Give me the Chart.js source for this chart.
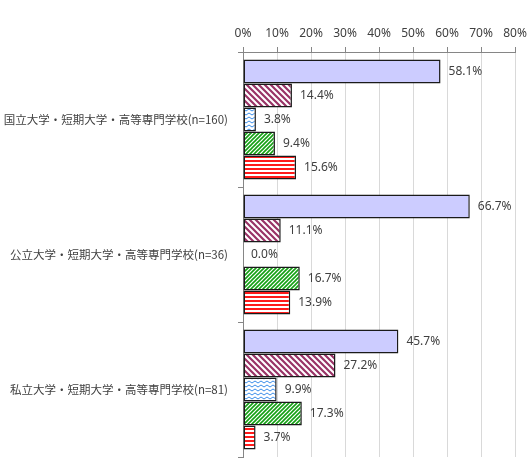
<!DOCTYPE html>
<html>
<head>
<meta charset="utf-8">
<script src="https://cdn.jsdelivr.net/npm/chart.js@4"></script>
<style>
  html, body { margin: 0; padding: 0; background: #fff; }
  #wrap { width: 531px; height: 472px; position: relative; }
</style>
</head>
<body>
<div id="wrap"><canvas id="chart" width="531" height="472"></canvas></div>
<script>
const categories = [
    '国立大学・短期大学・高等専門学校(n=160)',
    '公立大学・短期大学・高等専門学校(n=36)',
    '私立大学・短期大学・高等専門学校(n=81)'
];
const series1 = [58.1, 66.7, 45.7];
const series2 = [14.4, 11.1, 27.2];
const series3 = [3.8, 0.0, 9.9];
const series4 = [9.4, 16.7, 17.3];
const series5 = [15.6, 13.9, 3.7];
const xTicks = [0, 10, 20, 30, 40, 50, 60, 70, 80];

// Build fill patterns like the Excel hatching
function makePattern(w, h, draw) {
    const c = document.createElement('canvas');
    c.width = w; c.height = h;
    const g = c.getContext('2d');
    g.fillStyle = '#fff';
    g.fillRect(0, 0, w, h);
    draw(g);
    return document.getElementById('chart').getContext('2d').createPattern(c, 'repeat');
}

const maroonHatch = makePattern(6, 6, g => {
    g.strokeStyle = '#993366'; g.lineWidth = 2.2;
    g.beginPath();
    g.moveTo(-1, -1); g.lineTo(7, 7);
    g.moveTo(-1, 5); g.lineTo(1, 7);
    g.moveTo(5, -1); g.lineTo(7, 1);
    g.stroke();
});
const blueWave = makePattern(6, 4, g => {
    g.strokeStyle = '#3b8eea'; g.lineWidth = 1;
    g.beginPath();
    g.moveTo(0, 3); g.lineTo(3, 1); g.lineTo(6, 3);
    g.stroke();
});
const greenHatch = makePattern(4, 4, g => {
    g.strokeStyle = '#14a014'; g.lineWidth = 1.6;
    g.beginPath();
    g.moveTo(-1, 5); g.lineTo(5, -1);
    g.moveTo(-1, 1); g.lineTo(1, -1);
    g.moveTo(3, 5); g.lineTo(5, 3);
    g.stroke();
});
const redStripes = makePattern(4, 4, g => {
    g.fillStyle = '#ff1a1a';
    g.fillRect(0, 0, 4, 2);
});

const valueLabels = {
    id: 'valueLabels',
    afterDatasetsDraw(chart) {
        const ctx = chart.ctx;
        ctx.save();
        ctx.font = '12px "Noto Sans", sans-serif';
        ctx.fillStyle = '#404040';
        ctx.textAlign = 'left';
        ctx.textBaseline = 'middle';
        chart.data.datasets.forEach((ds, i) => {
            const meta = chart.getDatasetMeta(i);
            meta.data.forEach((bar, j) => {
                ctx.fillText(ds.data[j].toFixed(1) + '%', bar.x + 8, bar.y);
            });
        });
        ctx.restore();
    }
};

const border = ctx => (ctx.raw === 0 ? 0 : 1.5);

new Chart(document.getElementById('chart'), {
    type: 'bar',
    data: {
        labels: categories,
        datasets: [
            { data: series1, backgroundColor: '#ccccff' },
            { data: series2, backgroundColor: maroonHatch },
            { data: series3, backgroundColor: blueWave },
            { data: series4, backgroundColor: greenHatch },
            { data: series5, backgroundColor: redStripes }
        ].map(d => Object.assign(d, {
            borderColor: '#1a1a1a', borderWidth: border, borderSkipped: false,
            barPercentage: 1, categoryPercentage: 0.889
        }))
    },
    options: {
        indexAxis: 'y',
        responsive: false,
        animation: false,
        events: [],
        layout: { padding: { left: 0, right: 16, top: 0, bottom: 15 } },
        plugins: { legend: { display: false }, tooltip: { enabled: false } },
        scales: {
            x: {
                position: 'top',
                min: 0, max: 80,
                afterBuildTicks: s => { s.ticks = xTicks.map(v => ({ value: v })); },
                afterFit: s => { s.height = 52; s.paddingLeft = 0; s.paddingRight = 0; },
                ticks: {
                    callback: v => v + '%',
                    color: '#404040',
                    font: { family: '"Noto Sans", sans-serif', size: 12 },
                    padding: 6
                },
                grid: { color: '#d9d9d9', tickColor: '#868686', tickLength: 5 },
                border: { color: '#868686' }
            },
            y: {
                afterFit: s => { s.width = 243; s.paddingTop = 0; s.paddingBottom = 0; },
                ticks: {
                    color: '#404040',
                    font: { family: '"Noto Sans CJK JP", sans-serif', size: 11.5 },
                    padding: 10
                },
                grid: { drawOnChartArea: false, tickColor: '#868686', tickLength: 5 },
                border: { color: '#868686' }
            }
        }
    },
    plugins: [valueLabels]
});
</script>
</body>
</html>
